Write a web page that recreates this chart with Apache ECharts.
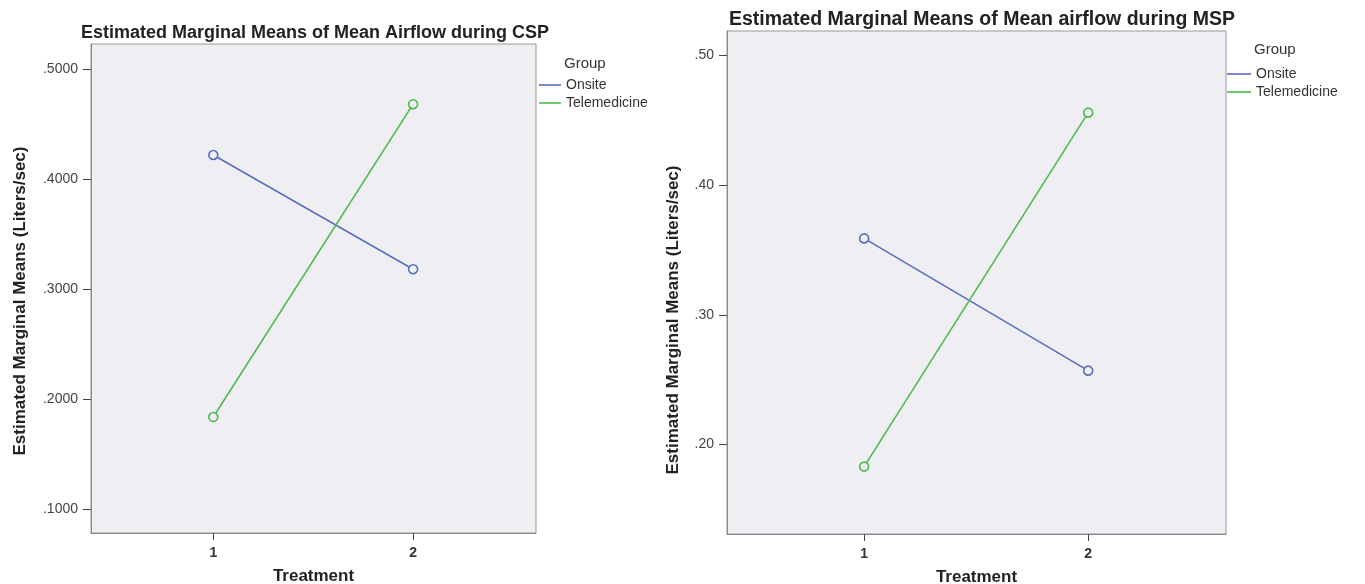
<!DOCTYPE html>
<html>
<head>
<meta charset="utf-8">
<script src="https://cdn.jsdelivr.net/npm/echarts@6/dist/echarts.min.js"></script>
<style>html,body{margin:0;padding:0;background:#fff}#c{width:1365px;height:584px}</style>
</head>
<body>
<div id="c"></div>
<script>
// Data
const treatments = [1, 2];
const groups = ['Onsite', 'Telemedicine'];
const cspOnsite = [0.4218, 0.318];
const cspTelemedicine = [0.1836, 0.468];
const mspOnsite = [0.359, 0.257];
const mspTelemedicine = [0.183, 0.456];
const cspTicks = [0.1, 0.2, 0.3, 0.4, 0.5];
const mspTicks = [0.2, 0.3, 0.4, 0.5];
const titles = ['Estimated Marginal Means of Mean Airflow during CSP', 'Estimated Marginal Means of Mean airflow during MSP'];
const yName = 'Estimated Marginal Means (Liters/sec)';
const xName = 'Treatment';
const legendTitle = 'Group';

const FONT = '"Liberation Sans", Arial, sans-serif';
const colors = {Onsite: '#5a6ec0', Telemedicine: '#4dbb4d'};

function pairs(vals) { return treatments.map((t, i) => [t, vals[i]]); }

function xAxis(gi) {
  return {
    type: 'value', gridIndex: gi, min: 0.388, max: 2.615,
    name: xName, nameLocation: 'middle', nameGap: 35,
    nameTextStyle: {fontFamily: FONT, fontWeight: 'bold', fontSize: 17, color: '#222'},
    axisLine: {show: true, lineStyle: {color: '#888', width: 1}},
    axisTick: {show: true, customValues: treatments, length: 7, lineStyle: {color: '#444'}},
    axisLabel: {customValues: treatments, margin: 13, fontFamily: FONT, fontSize: 14, color: '#333', fontWeight: 'bold'},
    splitLine: {show: false}
  };
}
function yAxis(gi, min, max, ticks, dec) {
  return {
    type: 'value', gridIndex: gi, min: min, max: max,
    axisLine: {show: true, lineStyle: {color: '#888', width: 1}},
    axisTick: {show: true, customValues: ticks, length: 8, inside: false, lineStyle: {color: '#444'}},
    axisLabel: {customValues: ticks, margin: 13, fontFamily: FONT, fontSize: 14, color: '#444',
      formatter: v => v.toFixed(dec).replace(/^0/, '')},
    splitLine: {show: false}
  };
}
function series(name, gi, vals) {
  return {
    name: name, type: 'line', xAxisIndex: gi, yAxisIndex: gi, data: pairs(vals),
    symbol: 'circle', symbolSize: 9, showSymbol: true,
    itemStyle: {color: '#efeff3', borderColor: colors[name], borderWidth: 1.6},
    lineStyle: {color: colors[name], width: 1.6},
    color: colors[name], animation: false
  };
}

const legendText = {fontFamily: FONT, fontSize: 14, color: '#333'};
const legendData = groups.map(g => ({name: g, itemStyle: {color: colors[g], borderWidth: 0}}));
const chart = echarts.init(document.getElementById('c'), null, {renderer: 'canvas'});
chart.setOption({
  animation: false,
  title: [
    {text: titles[0], left: 310, top: 19, textAlign: 'center', textStyle: {fontFamily: FONT, fontWeight: 'bold', fontSize: 18, color: '#222'}},
    {text: titles[1], left: 977, top: 5, textAlign: 'center', textStyle: {fontFamily: FONT, fontWeight: 'bold', fontSize: 19.5, color: '#222'}},
    {text: legendTitle, left: 559, top: 51, textStyle: {fontFamily: FONT, fontWeight: 'normal', fontSize: 15, color: '#333'}},
    {text: legendTitle, left: 1249, top: 37, textStyle: {fontFamily: FONT, fontWeight: 'normal', fontSize: 15, color: '#333'}}
  ],
  legend: [
    {data: legendData, orient: 'vertical', left: 534, top: 73, icon: 'rect', itemWidth: 22, itemHeight: 1.6, itemGap: 4,
      textStyle: legendText, selectedMode: false},
    {data: legendData, orient: 'vertical', left: 1222, top: 62, icon: 'rect', itemWidth: 24, itemHeight: 1.6, itemGap: 4,
      textStyle: legendText, selectedMode: false}
  ],
  grid: [
    {left: 91, top: 44, width: 445, height: 489, outerBoundsMode: 'none', containLabel: false, show: true, backgroundColor: '#efeff3', borderColor: '#999', borderWidth: 1},
    {left: 727, top: 31, width: 499, height: 503, outerBoundsMode: 'none', containLabel: false, show: true, backgroundColor: '#efeff3', borderColor: '#999', borderWidth: 1}
  ],
  xAxis: [xAxis(0), xAxis(1)],
  yAxis: [yAxis(0, 0.0782, 0.5227, cspTicks, 4), yAxis(1, 0.131, 0.519, mspTicks, 2)],
  graphic: [
    {type: 'text', x: 20, y: 301, rotation: Math.PI / 2,
      style: {text: yName, fontFamily: FONT, fontWeight: 'bold', fontSize: 17, fill: '#222', align: 'center', verticalAlign: 'middle'}},
    {type: 'text', x: 673, y: 320, rotation: Math.PI / 2,
      style: {text: yName, fontFamily: FONT, fontWeight: 'bold', fontSize: 17, fill: '#222', align: 'center', verticalAlign: 'middle'}}
  ],
  series: [
    series('Onsite', 0, cspOnsite),
    series('Telemedicine', 0, cspTelemedicine),
    series('Onsite', 1, mspOnsite),
    series('Telemedicine', 1, mspTelemedicine)
  ]
});
</script>
</body>
</html>
